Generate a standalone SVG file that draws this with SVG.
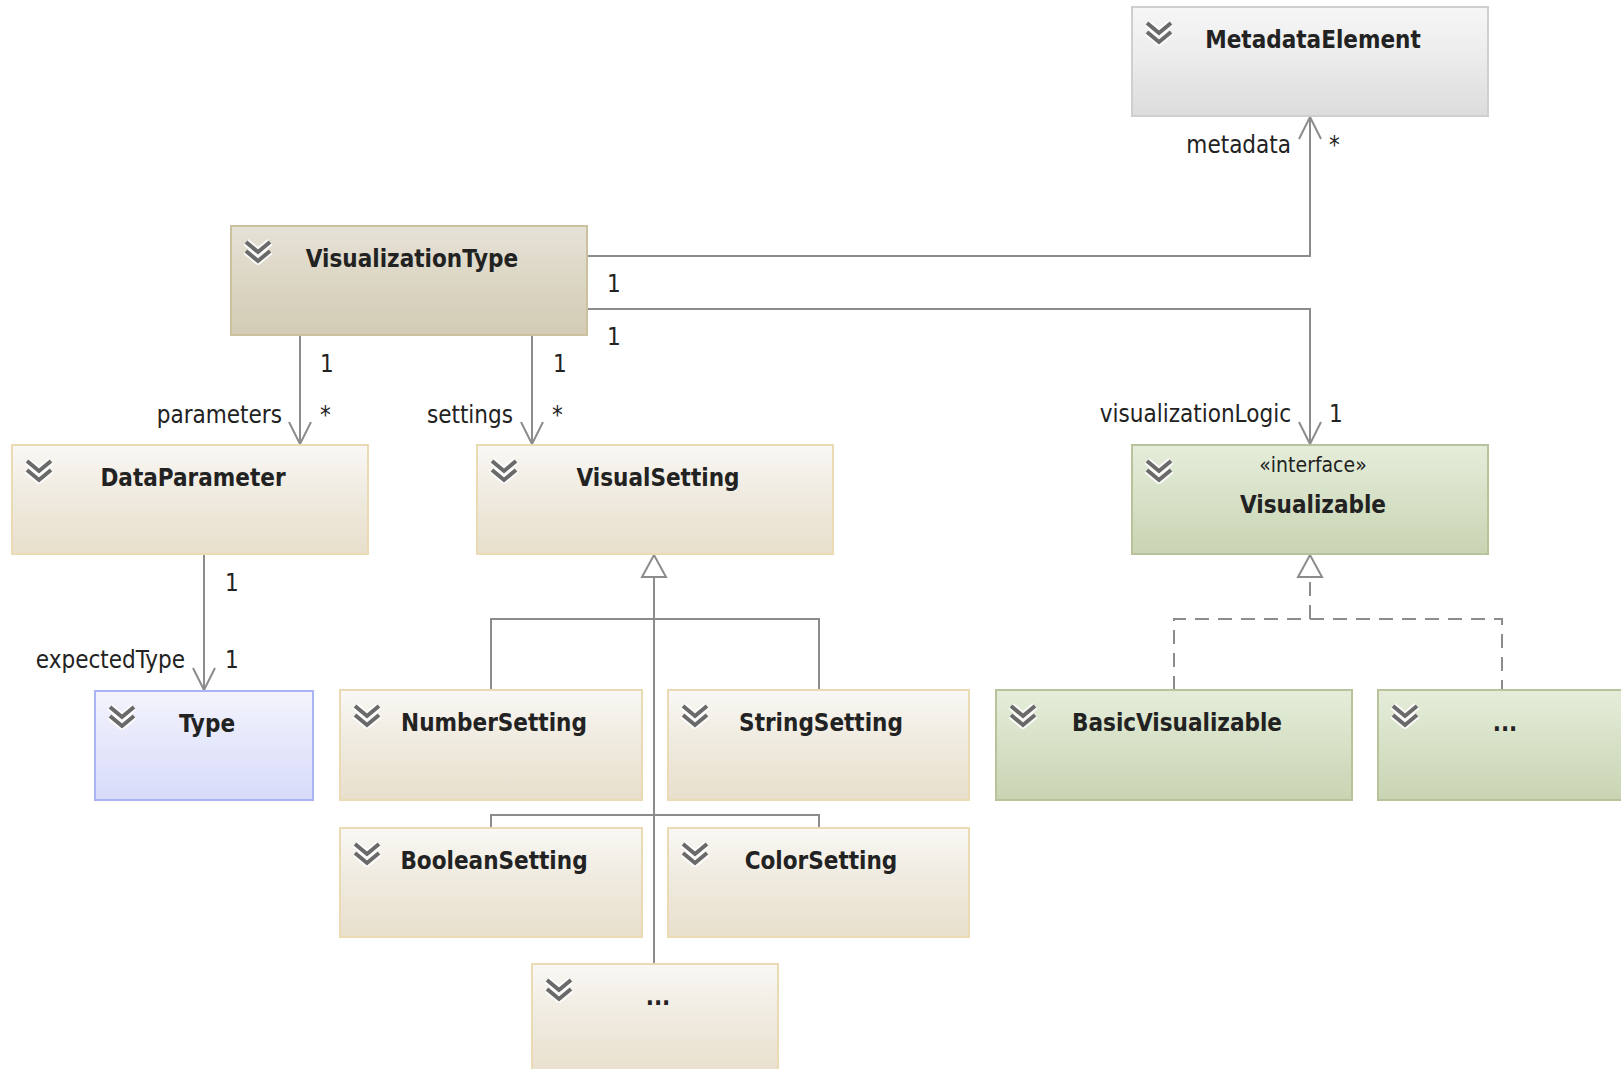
<svg xmlns="http://www.w3.org/2000/svg" width="1621" height="1069" viewBox="0 0 1621 1069">
<style>
.box{stroke-width:2}
.title{font-family:'DejaVu Sans Condensed','DejaVu Sans',sans-serif;font-weight:bold;font-size:24px;fill:#222;text-anchor:middle}
.stereo{font-family:'DejaVu Sans Condensed','DejaVu Sans',sans-serif;font-size:21px;fill:#222;text-anchor:middle}
.lbl{font-family:'DejaVu Sans Condensed','DejaVu Sans',sans-serif;font-size:24px;fill:#222}
.end{text-anchor:end}
.conn{fill:none;stroke:#8c8c8c;stroke-width:2}
.dash{stroke-dasharray:14 9}
.gray{fill:url(#gGray);stroke:#cfcfcf}
.tan{fill:url(#gTan);stroke:#cbc19f}
.beige{fill:url(#gBeige);stroke:#eadbb4}
.blue{fill:url(#gBlue);stroke:#aab3f4}
.green{fill:url(#gGreen);stroke:#b8c39b}
</style>
<defs>
<linearGradient id="gGray" x1="0" y1="0" x2="0" y2="1"><stop offset="0" stop-color="#f6f6f6"/><stop offset="0.45" stop-color="#ececec"/><stop offset="1" stop-color="#dcdcdc"/></linearGradient>
<linearGradient id="gTan" x1="0" y1="0" x2="0" y2="1"><stop offset="0" stop-color="#e6e2d7"/><stop offset="0.45" stop-color="#ddd7c6"/><stop offset="1" stop-color="#d3cbb4"/></linearGradient>
<linearGradient id="gBeige" x1="0" y1="0" x2="0" y2="1"><stop offset="0" stop-color="#f9f8f5"/><stop offset="0.45" stop-color="#f0ebe0"/><stop offset="1" stop-color="#e8dfcc"/></linearGradient>
<linearGradient id="gBlue" x1="0" y1="0" x2="0" y2="1"><stop offset="0" stop-color="#f4f4fd"/><stop offset="0.45" stop-color="#e6e8fb"/><stop offset="1" stop-color="#d7dbf9"/></linearGradient>
<linearGradient id="gGreen" x1="0" y1="0" x2="0" y2="1"><stop offset="0" stop-color="#e5edda"/><stop offset="0.45" stop-color="#d8e2c8"/><stop offset="1" stop-color="#c8d4b3"/></linearGradient>
<g id="chev">
<path d="M2,2 L14,12 L26,2 M2,11 L14,21 L26,11" fill="none" stroke="#ffffff" stroke-width="8" stroke-linejoin="round" stroke-opacity="0.85"/>
<path d="M2,2 L14,12 L26,2 M2,11 L14,21 L26,11" fill="none" stroke="#6a6a6a" stroke-width="4"/>
</g>
<marker id="open" viewBox="-24 -13 26 26" markerWidth="26" markerHeight="26" refX="0" refY="0" orient="auto" markerUnits="userSpaceOnUse">
<path d="M-22,-11 L0,0 L-22,11" fill="none" stroke="#8c8c8c" stroke-width="2"/>
</marker>
<marker id="tri" viewBox="-25 -14 27 28" markerWidth="27" markerHeight="28" refX="0" refY="0" orient="auto" markerUnits="userSpaceOnUse">
<path d="M-22,-12 L0,0 L-22,12 Z" fill="#ffffff" stroke="#8c8c8c" stroke-width="2"/>
</marker>
</defs>
<rect width="1621" height="1069" fill="#ffffff"/>

<g id="connectors">
<path class="conn" d="M587,256 H1310 V117" marker-end="url(#open)"/>
<path class="conn" d="M587,309 H1310 V444" marker-end="url(#open)"/>
<path class="conn" d="M300,335 V444" marker-end="url(#open)"/>
<path class="conn" d="M532,335 V444" marker-end="url(#open)"/>
<path class="conn" d="M204,554 V690" marker-end="url(#open)"/>
<path class="conn" d="M654,964 V555" marker-end="url(#tri)"/>
<path class="conn" d="M491,690 V619 H819 V690"/>
<path class="conn" d="M491,828 V815 H819 V828"/>
<path class="conn dash" d="M1310,619 V555" marker-end="url(#tri)"/>
<path class="conn dash" d="M1174,690 V619 H1502 V690"/>
<text class="lbl" x="607" y="292">1</text>
<text class="lbl" x="607" y="345">1</text>
<text class="lbl end" x="1291" y="153">metadata</text>
<text class="lbl" x="1329" y="153">*</text>
<text class="lbl end" x="1291" y="422">visualizationLogic</text>
<text class="lbl" x="1329" y="422">1</text>
<text class="lbl" x="320" y="372">1</text>
<text class="lbl end" x="282" y="423">parameters</text>
<text class="lbl" x="320" y="423">*</text>
<text class="lbl" x="553" y="372">1</text>
<text class="lbl end" x="513" y="423">settings</text>
<text class="lbl" x="552" y="423">*</text>
<text class="lbl" x="225" y="591">1</text>
<text class="lbl end" x="185" y="668">expectedType</text>
<text class="lbl" x="225" y="668">1</text>
</g>

<g id="MetadataElement">
<rect class="box gray" x="1132" y="7" width="356" height="109"/>
<use href="#chev" x="1145" y="21"/>
<text class="title" x="1313" y="48">MetadataElement</text>
</g>
<g id="VisualizationType">
<rect class="box tan" x="231" y="226" width="356" height="109"/>
<use href="#chev" x="244" y="240"/>
<text class="title" x="412" y="267">VisualizationType</text>
</g>
<g id="DataParameter">
<rect class="box beige" x="12" y="445" width="356" height="109"/>
<use href="#chev" x="25" y="459"/>
<text class="title" x="193" y="486">DataParameter</text>
</g>
<g id="VisualSetting">
<rect class="box beige" x="477" y="445" width="356" height="109"/>
<use href="#chev" x="490" y="459"/>
<text class="title" x="658" y="486">VisualSetting</text>
</g>
<g id="Visualizable">
<rect class="box green" x="1132" y="445" width="356" height="109"/>
<use href="#chev" x="1145" y="459"/>
<text class="stereo" x="1313" y="472">«interface»</text>
<text class="title" x="1313" y="513">Visualizable</text>
</g>
<g id="Type">
<rect class="box blue" x="95" y="691" width="218" height="109"/>
<use href="#chev" x="108" y="705"/>
<text class="title" x="207" y="732">Type</text>
</g>
<g id="NumberSetting">
<rect class="box beige" x="340" y="690" width="302" height="110"/>
<use href="#chev" x="353" y="704"/>
<text class="title" x="494" y="731">NumberSetting</text>
</g>
<g id="StringSetting">
<rect class="box beige" x="668" y="690" width="301" height="110"/>
<use href="#chev" x="681" y="704"/>
<text class="title" x="821" y="731">StringSetting</text>
</g>
<g id="BooleanSetting">
<rect class="box beige" x="340" y="828" width="302" height="109"/>
<use href="#chev" x="353" y="842"/>
<text class="title" x="494" y="869">BooleanSetting</text>
</g>
<g id="ColorSetting">
<rect class="box beige" x="668" y="828" width="301" height="109"/>
<use href="#chev" x="681" y="842"/>
<text class="title" x="821" y="869">ColorSetting</text>
</g>
<g id="MoreSettings">
<rect class="box beige" x="532" y="964" width="246" height="115"/>
<use href="#chev" x="545" y="978"/>
<text class="title" x="658" y="1005">...</text>
</g>
<g id="BasicVisualizable">
<rect class="box green" x="996" y="690" width="356" height="110"/>
<use href="#chev" x="1009" y="704"/>
<text class="title" x="1177" y="731">BasicVisualizable</text>
</g>
<g id="MoreVisualizables">
<rect class="box green" x="1378" y="690" width="250" height="110"/>
<use href="#chev" x="1391" y="704"/>
<text class="title" x="1505" y="731">...</text>
</g>
</svg>
